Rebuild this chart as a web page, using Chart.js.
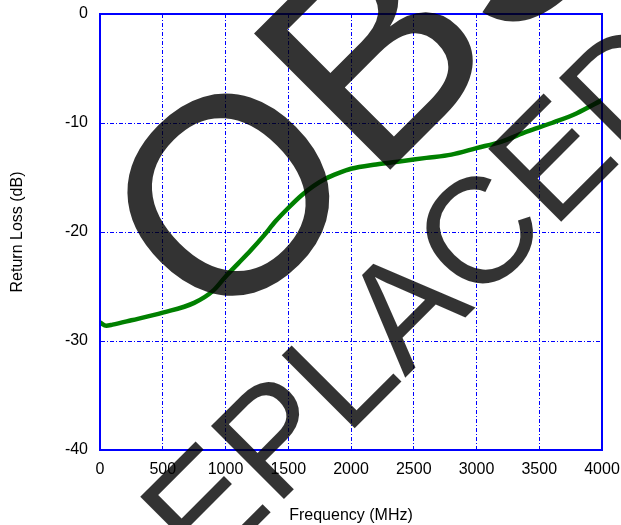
<!DOCTYPE html>
<html>
<head>
<meta charset="utf-8">
<script src="https://cdn.jsdelivr.net/npm/chart.js@4"></script>
<style>
html,body{margin:0;padding:0;background:#fff;}
canvas{display:block;}
</style>
</head>
<body>
<canvas id="c" width="621" height="525"></canvas>
<script>
const frequencies = [0, 50, 100, 250, 500, 750, 900, 1000, 1100, 1200, 1300, 1400, 1500, 1600, 1700, 1800, 1900, 2000, 2200, 2400, 2600, 2800, 3000, 3200, 3400, 3600, 3800, 4000];
const returnLoss = [-28.3, -28.6, -28.5, -28.1, -27.4, -26.5, -25.4, -24.1, -22.9, -21.7, -20.4, -19.0, -17.8, -16.7, -15.8, -15.1, -14.6, -14.2, -13.8, -13.5, -13.2, -12.9, -12.3, -11.7, -10.8, -10.0, -9.1, -7.9];
const xTitle = 'Frequency (MHz)';
const yTitle = 'Return Loss (dB)';
const watermarkLine1 = 'OBSOLETE';
const watermarkLine2 = 'REPLACED';

const FONT = "'Liberation Sans', Arial, sans-serif";
const points = frequencies.map((f, i) => ({x: f, y: returnLoss[i]}));

const framePlugin = {
  id: 'frame',
  afterDatasetsDraw(chart) {
    const {ctx, chartArea: a} = chart;
    ctx.save();
    ctx.strokeStyle = '#0000ff';
    ctx.lineWidth = 2;
    ctx.setLineDash([]);
    ctx.strokeRect(a.left, a.top, a.right - a.left, a.bottom - a.top);
    ctx.restore();
  }
};

const watermarkPlugin = {
  id: 'watermark',
  afterDraw(chart) {
    const ctx = chart.ctx;
    ctx.save();
    ctx.fillStyle = 'rgba(0,0,0,0.8)';
    ctx.textBaseline = 'alphabetic';
    ctx.textAlign = 'left';
    ctx.save();
    ctx.translate(220, 340);
    ctx.rotate(-Math.PI / 4);
    ctx.font = "280px " + FONT;
    ctx.fillText(watermarkLine1, 0, 0);
    ctx.restore();
    ctx.save();
    ctx.translate(128, 655);
    ctx.rotate(-Math.PI / 4);
    ctx.font = "150px " + FONT;
    ctx.fillText(watermarkLine2, 0, 0);
    ctx.restore();
    ctx.restore();
  }
};

new Chart(document.getElementById('c'), {
  type: 'line',
  data: {
    datasets: [{
      data: points,
      borderColor: '#008000',
      borderWidth: 4.5,
      pointRadius: 0,
      fill: false,
      cubicInterpolationMode: 'monotone'
    }]
  },
  options: {
    responsive: false,
    animation: false,
    devicePixelRatio: 1,
    layout: {padding: {top: 14, right: 19, left: 0, bottom: 0}},
    plugins: {legend: {display: false}, tooltip: {enabled: false}},
    scales: {
      x: {
        type: 'linear',
        min: 0, max: 4000,
        afterFit(s) { s.height = 75; s.paddingLeft = 0; s.paddingRight = 0; },
        ticks: {stepSize: 500, color: '#000', padding: 10, maxRotation: 0, font: {family: FONT, size: 16},
                callback: (v) => String(v)},
        grid: {color: '#0000ff', lineWidth: 1, drawTicks: false},
        border: {display: true, color: '#0000ff', width: 2, dash: [4, 2, 1, 2]},
        title: {display: true, text: xTitle, color: '#000', font: {family: FONT, size: 16}, padding: {top: 0, bottom: 0}}
      },
      y: {
        min: -40, max: 0,
        afterFit(s) { s.width = 100; s.paddingTop = 0; s.paddingBottom = 0; },
        ticks: {stepSize: 10, color: '#000', padding: 12, font: {family: FONT, size: 16},
                callback: (v) => String(v)},
        grid: {color: '#0000ff', lineWidth: 1, drawTicks: false},
        border: {display: true, color: '#0000ff', width: 2, dash: [4, 2, 1, 2]},
        title: {display: true, text: yTitle, color: '#000', font: {family: FONT, size: 16}, padding: {top: 8, bottom: 0}}
      }
    }
  },
  plugins: [framePlugin, watermarkPlugin]
});
</script>
</body>
</html>
